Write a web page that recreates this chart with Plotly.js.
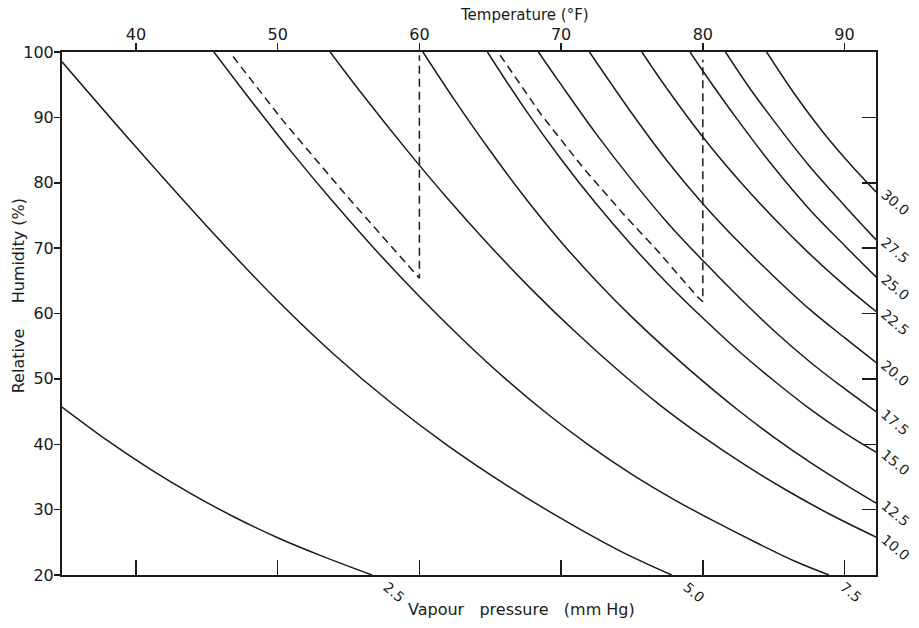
<!DOCTYPE html>
<html>
<head>
<meta charset="utf-8">
<script src="https://cdn.plot.ly/plotly-3.0.1.min.js"></script>
<style>html,body{margin:0;padding:0;background:#fff;}#chart{width:919px;height:628px;}</style>
</head>
<body>
<div id="chart"></div>
<script>
// Axis ticks
const tempTicks = [40, 50, 60, 70, 80, 90];
const rhTicks = [20, 30, 40, 50, 60, 70, 80, 90, 100];

// Lines of constant vapour pressure (mm Hg): temperature (°F) and relative humidity (%)
const vp2_5_T  = [34.78, 38, 41, 44, 47, 50, 53, 56.65];
const vp2_5_RH = [45.7, 40.55, 36.2, 32.3, 28.8, 25.7, 23.0, 20.0];

const vp5_0_T  = [34.78, 40, 45, 50, 54, 58, 62, 66, 70, 74, 77.8];
const vp5_0_RH = [98.5, 85.45, 73.35, 61.95, 53.7, 46.35, 39.8, 33.95, 28.65, 23.85, 20.0];

const vp7_5_T  = [45.5, 48, 51, 54, 57, 60, 63, 66, 69, 72, 75, 78, 81, 84, 86.5, 88.9];
const vp7_5_RH = [100, 92.9, 84.65, 76.85, 69.5, 62.6, 56.15, 50.15, 44.7, 39.8, 35.4, 31.5, 28.0, 24.7, 22.1, 20.0];

const vp10_0_T  = [53.7, 56, 59, 62, 65, 68, 71, 74, 77, 80, 83, 86, 89, 92.22];
const vp10_0_RH = [100, 93.45, 85.3, 77.55, 70.3, 63.5, 57.2, 51.35, 45.95, 41.15, 36.8, 32.85, 29.25, 25.8];

const vp12_5_T  = [60.25, 62.5, 65, 67.5, 70, 72.5, 75, 77.5, 80, 82.5, 85, 87.5, 90, 92.22];
const vp12_5_RH = [100, 92.6, 84.85, 77.6, 70.95, 64.95, 59.45, 54.4, 49.65, 45.2, 41.1, 37.35, 33.9, 31.0];

const vp15_0_T  = [64.8, 67.5, 70, 72.5, 75, 77.5, 80, 82.5, 85, 87.5, 90, 92.22];
const vp15_0_RH = [100, 91.1, 83.6, 76.7, 70.4, 64.6, 59.3, 54.3, 49.75, 45.5, 41.75, 38.8];

const vp17_5_T  = [68.4, 70, 72.5, 75, 77.5, 80, 82.5, 85, 87.5, 90, 92.22];
const vp17_5_RH = [100, 95.0, 87.4, 80.4, 73.9, 68.1, 62.6, 57.4, 52.7, 48.5, 45.0];

const vp20_0_T  = [72, 75, 77.5, 80, 82.5, 85, 87.5, 90, 92.22];
const vp20_0_RH = [100, 90.6, 83.3, 76.8, 71.0, 65.7, 60.7, 56.3, 52.5];

const vp22_5_T  = [75.7, 77.5, 80, 82.5, 85, 87.5, 90, 92.22];
const vp22_5_RH = [100, 94.3, 87.0, 80.5, 74.6, 69.2, 64.3, 60.3];

const vp25_0_T  = [79.1, 80, 82.5, 85, 87.5, 90, 92.22];
const vp25_0_RH = [100, 97.1, 89.5, 82.4, 76.0, 70.4, 65.6];

const vp27_5_T  = [81.6, 83.3, 85, 87.5, 90, 92.22];
const vp27_5_RH = [100, 94.5, 89.5, 82.6, 76.5, 71.3];

const vp30_0_T  = [84.5, 86.5, 88.5, 90.5, 92.22];
const vp30_0_RH = [100, 93.5, 87.7, 82.6, 78.6];

// Dashed construction lines
const dash60_T  = [46.85, 50.37, 54.9, 59.8, 60.0, 60.0];
const dash60_RH = [99.3, 89.5, 77.9, 66.0, 65.4, 99.5];
const dash80_T  = [65.7, 68.6, 71.55, 74.4, 76.8, 79.6, 80.0, 80.0];
const dash80_RH = [99.5, 90.4, 82.3, 75.2, 69.6, 62.6, 61.8, 98.8];

// Curve labels
const curveLabels = ['2.5', '5.0', '7.5', '10.0', '12.5', '15.0', '17.5', '20.0', '22.5', '25.0', '27.5', '30.0'];
const curveT  = [vp2_5_T, vp5_0_T, vp7_5_T, vp10_0_T, vp12_5_T, vp15_0_T, vp17_5_T, vp20_0_T, vp22_5_T, vp25_0_T, vp27_5_T, vp30_0_T];
const curveRH = [vp2_5_RH, vp5_0_RH, vp7_5_RH, vp10_0_RH, vp12_5_RH, vp15_0_RH, vp17_5_RH, vp20_0_RH, vp22_5_RH, vp25_0_RH, vp27_5_RH, vp30_0_RH];

const INK = '#1a1a1a';
const FONT = 'DejaVu Sans, sans-serif';
const xRange = [34.78, 92.22];
const yRange = [20, 100];
const NB = '\u00a0';

const traces = curveT.map((t, i) => ({
  type: 'scatter', mode: 'lines', x: t, y: curveRH[i],
  line: {color: INK, width: 1.5, shape: 'spline', smoothing: 1.0},
  hoverinfo: 'skip', showlegend: false
}));
traces.push({type: 'scatter', mode: 'lines', x: dash60_T, y: dash60_RH, xaxis: 'x2', yaxis: 'y2',
  line: {color: INK, width: 1.5, dash: '8px,5px'}, showlegend: false, hoverinfo: 'skip'});
traces.push({type: 'scatter', mode: 'lines', x: dash80_T, y: dash80_RH, xaxis: 'x2', yaxis: 'y2',
  line: {color: INK, width: 1.5, dash: '8px,5px'}, showlegend: false, hoverinfo: 'skip'});

const annotations = curveT.map((t, i) => {
  const lastT = t[t.length - 1];
  const lastRH = curveRH[i][curveRH[i].length - 1];
  const atBottom = lastRH <= 20.0001;
  return {
    x: lastT, y: lastRH, xref: 'x', yref: 'y', text: curveLabels[i], showarrow: false,
    textangle: 40, xanchor: 'center', yanchor: 'middle',
    xshift: atBottom ? 22 : 19, yshift: atBottom ? -17 : -10,
    font: {family: FONT, size: 14, color: INK}
  };
});
annotations.push({xref: 'paper', yref: 'paper', x: 0.5676, y: 1.0698, text: 'Temperature (°F)', showarrow: false,
  xanchor: 'center', yanchor: 'middle', font: {family: FONT, size: 15, color: INK}});
annotations.push({xref: 'paper', yref: 'paper', x: -0.054, y: 0.533, text: 'Relative' + NB + NB + NB + NB + ' Humidity (%)', showarrow: false,
  textangle: -90, xanchor: 'center', yanchor: 'middle', font: {family: FONT, size: 16, color: INK}});
annotations.push({xref: 'paper', yref: 'paper', x: 0.564, y: -0.066, text: 'Vapour' + NB + NB + ' pressure' + NB + NB + ' (mm Hg)', showarrow: false,
  xanchor: 'center', yanchor: 'middle', font: {family: FONT, size: 16, color: INK}});

const axisBase = {showgrid: false, zeroline: false, showline: true, linecolor: INK, linewidth: 2,
  tickcolor: INK, tickwidth: 1.5, tickfont: {family: FONT, size: 16, color: INK}, fixedrange: true};

const layout = {
  width: 919, height: 628,
  margin: {l: 62, r: 43, t: 52, b: 53},
  paper_bgcolor: '#ffffff', plot_bgcolor: '#ffffff',
  showlegend: false,
  xaxis: Object.assign({}, axisBase, {range: xRange, tickvals: tempTicks, ticks: 'inside', ticklen: 15, showticklabels: false}),
  xaxis2: Object.assign({}, axisBase, {range: xRange, tickvals: tempTicks, ticks: 'outside', ticklen: 7, overlaying: 'x', side: 'top', anchor: 'y2', ticklabelstandoff: -3}),
  yaxis: Object.assign({}, axisBase, {range: yRange, tickvals: rhTicks, ticks: 'outside', ticklen: 6, ticklabelstandoff: -3}),
  yaxis2: Object.assign({}, axisBase, {range: yRange, tickvals: rhTicks, ticks: 'inside', ticklen: 14, showticklabels: false, overlaying: 'y', side: 'right', anchor: 'x2'}),
  annotations: annotations
};

Plotly.newPlot('chart', traces, layout, {staticPlot: true, displayModeBar: false});
</script>
</body>
</html>
